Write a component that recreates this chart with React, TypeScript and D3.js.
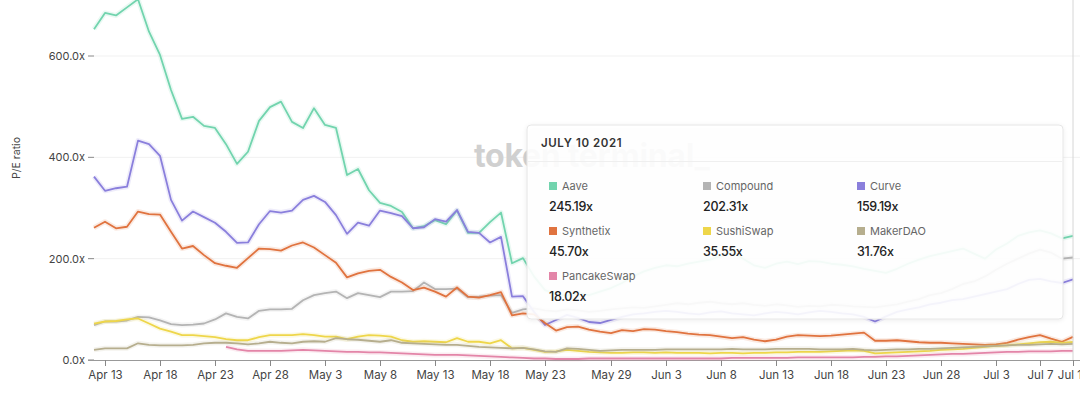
import * as d3 from "d3";

// daily P/E ratio, Apr 12 2021 -> Jul 10 2021
const startDay = "2021-04-12";

const aave = [
  653, 685, 680, 696, 712, 648, 602, 533, 476, 480, 462, 458, 426, 387, 411, 472, 499, 510, 470, 458,
  497, 464, 458, 365, 377, 335, 310, 304, 292, 260, 264, 276, 268, 295, 251, 251, 272, 291, 191, 201,
  165, 138, 130, 127, 132, 128, 135, 142, 152, 165, 175, 182, 187, 185, 190, 194, 198, 205, 214, 200,
  187, 182, 190, 194, 189, 195, 194, 190, 188, 185, 180, 176, 172, 180, 190, 198, 205, 210, 215, 220,
  210, 200, 218, 230, 245, 252, 256, 250, 240, 245.19,
];
const compound = [
  69, 76, 76, 78, 85, 84, 78, 71, 69, 70, 72, 80, 92, 85, 82, 97, 100, 100, 101, 118,
  128, 132, 135, 122, 132, 128, 124, 135, 135, 136, 153, 140, 140, 141, 124, 125, 127, 128, 93, 100,
  102, 98, 96, 100, 98, 95, 97, 100, 102, 104, 103, 106, 109, 112, 110, 113, 115, 112, 110, 112,
  109, 107, 110, 108, 105, 107, 106, 109, 108, 106, 105, 104, 107, 110, 115, 120, 128, 132, 140, 150,
  155, 165, 178, 190, 200, 210, 218, 212, 200, 202.31,
];
const curve = [
  362, 334, 339, 342, 433, 426, 403, 316, 275, 293, 282, 271, 253, 231, 232, 268, 294, 291, 295, 316,
  324, 312, 286, 249, 271, 265, 295, 290, 284, 260, 262, 278, 273, 296, 253, 251, 232, 243, 125, 126,
  95, 69, 79, 89, 83, 75, 73, 79, 85, 90, 92, 95, 97, 95, 92, 90, 94, 96, 92, 90,
  88, 92, 95, 93, 90, 94, 97, 95, 92, 90, 85, 76, 86, 95, 100, 104, 110, 113, 118, 120,
  125, 130, 135, 140, 150, 158, 160, 155, 152, 159.19,
];
const synthetix = [
  261, 273, 260, 263, 293, 288, 287, 253, 220, 225, 207, 191, 186, 182, 201, 220, 219, 216, 226, 232,
  222, 207, 192, 163, 171, 176, 178, 164, 153, 138, 143, 135, 125, 143, 125, 123, 128, 134, 88, 92,
  90, 73, 58, 65, 66, 60, 56, 53, 59, 57, 61, 60, 57, 55, 52, 50, 49, 46, 43, 45,
  40, 37, 40, 46, 49, 48, 47, 48, 50, 52, 54, 38, 38, 39, 37, 35, 34, 34, 33, 32,
  31, 30, 31, 34, 40, 45, 49, 42, 36, 45.7,
];
const sushiswap = [
  72, 76, 77, 80, 82, 72, 62, 56, 49, 49, 47, 45, 41, 39, 39, 45, 49, 49, 49, 51,
  49, 46, 46, 41, 46, 49, 48, 46, 39, 36, 37, 36, 35, 43, 36, 36, 33, 39, 23, 24,
  20, 16, 17, 20, 18, 16, 15, 14, 14, 15, 15, 14, 15, 14, 14, 14, 13, 14, 14, 13,
  14, 14, 15, 15, 16, 16, 16, 17, 18, 19, 18, 13, 14, 15, 16, 17, 18, 20, 21, 22,
  24, 26, 28, 29, 31, 33, 35, 36, 34, 35.55,
];
const makerdao = [
  20, 23, 23, 23, 33, 30, 29, 29, 29, 30, 33, 34, 34, 33, 31, 33, 36, 34, 33, 36,
  37, 36, 43, 41, 40, 38, 36, 39, 34, 33, 32, 31, 30, 30, 28, 26, 25, 24, 23, 24,
  21, 17, 16, 23, 22, 20, 18, 19, 20, 20, 20, 20, 21, 21, 21, 21, 21, 21, 22, 21,
  21, 21, 22, 22, 22, 22, 21, 21, 21, 22, 20, 19, 20, 21, 21, 22, 22, 23, 24, 25,
  26, 27, 28, 29, 30, 30, 31, 32, 31, 31.76,
];
const pancakeswap = [
  null, null, null, null, null, null, null, null, null, null, null, null, 26, 21, 18, 18, 18, 18, 19, 20,
  19, 18, 17, 16, 16, 15, 15, 14, 13, 12, 11, 10, 10, 10, 9, 8, 7, 6, 5, 4,
  3, 3, 2, 2, 2, 3, 3, 3, 3, 3, 3, 3, 3, 3, 3, 3, 3, 3, 4, 4,
  4, 4, 4, 4, 5, 5, 5, 5, 5, 5, 6, 6, 7, 7, 8, 9, 10, 11, 12, 12,
  13, 14, 15, 16, 16, 17, 17, 17, 18, 18.02,
];

const seriesNames = ["Aave", "Compound", "Curve", "Synthetix", "SushiSwap", "MakerDAO", "PancakeSwap"];
const seriesColors = ["#72d4ae", "#b4b4b4", "#8a7fdc", "#e0733f", "#eed64a", "#b6ae8e", "#e385a8"];
const seriesValues = [aave, compound, curve, synthetix, sushiswap, makerdao, pancakeswap];
const tooltipValues = ["245.19x", "202.31x", "159.19x", "45.70x", "35.55x", "31.76x", "18.02x"];

const yTicks = [0, 200, 400, 600];
const xTickDates = [
  "2021-04-13", "2021-04-18", "2021-04-23", "2021-04-28", "2021-05-03", "2021-05-08", "2021-05-13",
  "2021-05-18", "2021-05-23", "2021-05-29", "2021-06-03", "2021-06-08", "2021-06-13", "2021-06-18",
  "2021-06-23", "2021-06-28", "2021-07-03", "2021-07-07", "2021-07-10",
];
const hoverDate = "2021-07-10";
const hoverTitle = "JULY 10 2021";

const W = 1080;
const H = 396;
const FONT = "Inter, 'Noto Sans', sans-serif";

const parse = d3.timeParse("%Y-%m-%d");
const fmt = d3.timeFormat("%b %-d");

export default function App() {
  const start = parse(startDay) as Date;
  const dates = aave.map((_, i) => d3.timeDay.offset(start, i));

  const x = d3.scaleTime().domain([dates[0], dates[dates.length - 1]]).range([94, 1073]);
  const y = d3.scaleLinear().domain([0, 600]).range([360, 56]);

  const line = d3
    .line<number | null>()
    .defined((d) => d != null)
    .x((_, i) => x(dates[i]))
    .y((d) => y(d as number));

  const hx = x(parse(hoverDate) as Date);

  const tipX = 527;
  const tipY = 125;
  const tipW = 536;
  const tipH = 194;
  const colX = [549, 703, 857];
  const rowY = [190, 235, 280];

  return (
    <div style={{ position: "absolute", left: 0, top: 0 }}>
      <svg width={W} height={H} style={{ display: "block", background: "#fff" }} fontFamily={FONT}>
        <defs>
          <filter id="tipShadow" x="-5%" y="-10%" width="110%" height="125%">
            <feDropShadow dx="0" dy="1" stdDeviation="2" floodColor="#000" floodOpacity="0.08" />
          </filter>
        </defs>

        {/* grid */}
        {yTicks
          .filter((t) => t > 0)
          .map((t) => (
            <line key={t} x1={94} x2={W} y1={y(t)} y2={y(t)} stroke="#f1f1f1" strokeWidth={1} />
          ))}

        {/* watermark */}
        <text x={474} y={167} fontSize={32} fontWeight={700} fill="#d0d0d0" letterSpacing={-0.3}>
          token terminal_
        </text>

        {/* y axis */}
        {yTicks.map((t) => (
          <g key={t} transform={`translate(0,${y(t)})`}>
            <line x1={88} x2={94} stroke="#888" strokeWidth={1} />
            <text x={85} dy="0.35em" textAnchor="end" fontSize={11} fill="#444">
              {d3.format(".1f")(t)}x
            </text>
          </g>
        ))}
        <text transform="translate(20,158) rotate(-90)" textAnchor="middle" fontSize={10.5} fill="#444">
          P/E ratio
        </text>

        {/* x axis */}
        <line x1={88} x2={W} y1={360.5} y2={360.5} stroke="#999" strokeWidth={1} />
        {xTickDates.map((s) => {
          const d = parse(s) as Date;
          const px = Math.round(x(d)) + 0.5;
          return (
            <g key={s} transform={`translate(${px},360)`}>
              <line y1={0} y2={6} stroke="#888" strokeWidth={1} />
              <text y={19} textAnchor="middle" fontSize={11.5} fill="#444">
                {fmt(d)}
              </text>
            </g>
          );
        })}

        {/* series */}
        {seriesValues.map((vals, k) => (
          <g key={seriesNames[k]}>
            <path
              d={line(vals) || ""}
              fill="none"
              stroke={seriesColors[k]}
              strokeOpacity={0.15}
              strokeWidth={5}
              strokeLinejoin="round"
            />
            <path
              d={line(vals) || ""}
              fill="none"
              stroke={seriesColors[k]}
              strokeWidth={1.8}
              strokeLinejoin="round"
            />
          </g>
        ))}

        {/* hover line */}
        <line x1={hx} x2={hx} y1={0} y2={360} stroke="#d6d6d6" strokeWidth={1} />

        {/* tooltip */}
        <g filter="url(#tipShadow)">
          <rect
            x={tipX}
            y={tipY}
            width={tipW}
            height={tipH}
            rx={4}
            fill="#fff"
            fillOpacity={0.91}
            stroke="#e6e6e6"
          />
        </g>
        <text x={541} y={147} fontSize={11.5} fontWeight={600} fill="#333" letterSpacing={0.6}>
          {hoverTitle}
        </text>
        <line x1={tipX + 1} x2={tipX + tipW - 1} y1={161.5} y2={161.5} stroke="#efefef" />
        {seriesNames.map((name, k) => {
          const cx = colX[k % 3];
          const ry = rowY[Math.floor(k / 3)];
          return (
            <g key={name}>
              <rect x={cx} y={ry - 8} width={8} height={8} fill={seriesColors[k]} />
              <text x={cx + 13} y={ry} fontSize={11} fill="#666">
                {name}
              </text>
              <text x={cx} y={ry + 21} fontSize={12.5} fontWeight={500} fill="#222" letterSpacing={-0.3}>
                {tooltipValues[k]}
              </text>
            </g>
          );
        })}
      </svg>
    </div>
  );
}
